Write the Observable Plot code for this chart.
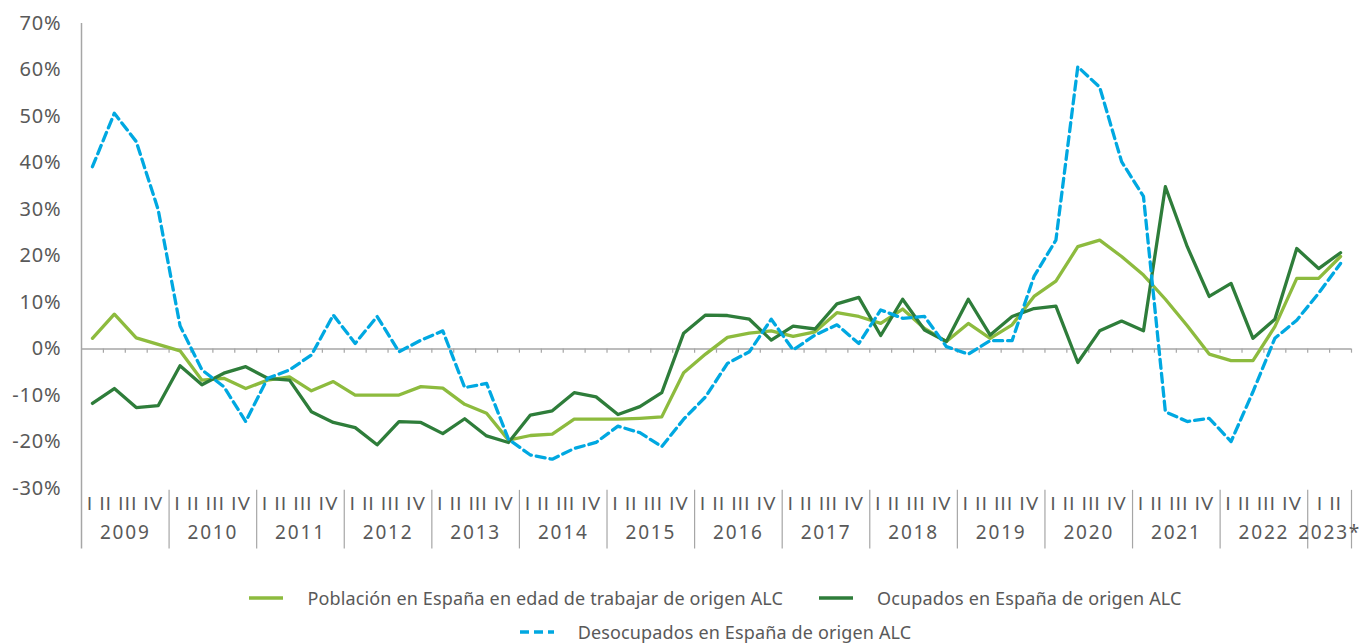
<!DOCTYPE html>
<html>
<head>
<meta charset="utf-8">
<script src="https://cdn.jsdelivr.net/npm/d3@7"></script>
<script src="https://cdn.jsdelivr.net/npm/@observablehq/plot@0.6"></script>
<style>
  body { margin: 0; background: #fff; font-family: "Noto Sans", sans-serif; color: #595959; overflow: hidden; }
  #chart svg { display: block; }
  #legend { width: 1307px; padding-left: 62px; margin-top: 27px; font-size: 18px; letter-spacing: 0.15px; line-height: 22px; }
  .row { display: flex; justify-content: center; align-items: center; height: 22px; }
  .row + .row { margin-top: 12px; }
  .item { display: flex; align-items: center; margin: 0 18px; }
  .item svg { margin-right: 24px; }
</style>
</head>
<body>
<div id="chart"></div>
<div id="legend"></div>
<script>
const years = ["2009","2010","2011","2012","2013","2014","2015","2016","2017","2018","2019","2020","2021","2022","2023*"];
const quarterLabels = ["I II III IV","I II III IV","I II III IV","I II III IV","I II III IV","I II III IV","I II III IV","I II III IV","I II III IV","I II III IV","I II III IV","I II III IV","I II III IV","I II III IV","I II"];
const quartersPerYear = [4,4,4,4,4,4,4,4,4,4,4,4,4,4,2];
const yTicks = [-30,-20,-10,0,10,20,30,40,50,60,70];

const seriesNames = [
  "Población en España en edad de trabajar de origen ALC",
  "Ocupados en España de origen ALC",
  "Desocupados en España de origen ALC"
];
const seriesColors = ["#8dbb3e", "#2e7d3a", "#00a8e1"];

const poblacion = [2.3,7.5,2.4,1.0,-0.4,-6.7,-6.3,-8.5,-6.7,-6.0,-9.0,-7.0,-9.9,-9.9,-9.9,-8.1,-8.4,-11.9,-13.8,-19.6,-18.6,-18.3,-15.1,-15.1,-15.1,-14.9,-14.6,-5.1,-1.1,2.5,3.4,3.9,2.7,3.7,7.8,7.0,5.5,8.6,4.4,1.6,5.5,2.3,5.2,11.3,14.6,22.0,23.4,19.9,15.9,10.7,5.0,-1.1,-2.5,-2.5,4.8,15.2,15.2,19.9];
const ocupados = [-11.7,-8.5,-12.6,-12.2,-3.6,-7.7,-5.2,-3.8,-6.3,-6.7,-13.5,-15.8,-16.9,-20.6,-15.6,-15.8,-18.2,-15.0,-18.7,-20.1,-14.2,-13.3,-9.4,-10.3,-14.1,-12.4,-9.4,3.4,7.3,7.2,6.4,1.9,4.9,4.3,9.7,11.1,2.9,10.7,4.1,1.6,10.7,3.0,7.0,8.7,9.2,-2.9,3.9,6.0,3.9,34.9,22.0,11.3,14.1,2.3,6.4,21.6,17.3,20.7];
const desocupados = [39.2,50.7,44.6,30.0,5.0,-4.5,-8.1,-15.6,-6.3,-4.5,-1.3,7.3,1.2,7.0,-0.6,1.9,3.9,-8.3,-7.4,-19.4,-22.8,-23.7,-21.4,-20.1,-16.6,-18.0,-21.0,-15.1,-10.3,-3.1,-0.6,6.4,-0.2,3.0,5.2,1.2,8.4,6.6,7.0,0.5,-1.1,1.8,1.8,15.6,23.4,60.7,56.3,40.3,32.8,-13.5,-15.6,-14.9,-19.9,-9.2,2.3,6.2,12.0,18.4];

// derived structures
const nQ = poblacion.length;
const yearStarts = quartersPerYear.map((q, i) => d3.sum(quartersPerYear.slice(0, i)));
const yearRows = years.map((y, i) => ({year: y, q: quarterLabels[i], center: yearStarts[i] + quartersPerYear[i] / 2}));
const boundaries = [...yearStarts, nQ];
const toRows = (vals) => vals.map((v, i) => ({x: i + 0.5, v}));

const axisGray = "#a6a6a6";

const chart = Plot.plot({
  width: 1369,
  height: 560,
  marginLeft: 81,
  marginRight: 18,
  marginTop: 23,
  marginBottom: 72,
  x: {domain: [0, nQ], axis: null},
  y: {domain: [-30, 70], ticks: yTicks, tickFormat: d => `${d}%`, tickSize: 0, tickPadding: 20, label: null},
  style: {fontFamily: "Noto Sans, sans-serif", fontSize: "20px", color: "#595959", background: "#fff"},
  marks: [
    Plot.ruleY([0], {x1: 0, x2: nQ, stroke: axisGray, strokeWidth: 1.5}),
    Plot.ruleX(d3.range(1, nQ + 1), {x: d => d, y1: 0, y2: -0.9, stroke: axisGray, strokeWidth: 1.2}),
    Plot.ruleX([0], {y1: 70, y2: -43, stroke: axisGray, strokeWidth: 1.5}),
    Plot.ruleX(boundaries.slice(1), {x: d => d, y1: -30.4, y2: -43, stroke: axisGray, strokeWidth: 1.2}),
    Plot.text(yearRows, {x: "center", y: () => -33.3, text: "q", fill: "#595959", fontSize: 18, fontFamily: "Lato"}),
    Plot.text(yearRows, {x: "center", y: () => -39.6, text: "year", fill: "#595959", fontSize: 19, fontFamily: "Noto Sans"}),
    Plot.line(toRows(poblacion), {x: "x", y: "v", stroke: seriesColors[0], strokeWidth: 3.3}),
    Plot.line(toRows(ocupados), {x: "x", y: "v", stroke: seriesColors[1], strokeWidth: 3.3}),
    Plot.line(toRows(desocupados), {x: "x", y: "v", stroke: seriesColors[2], strokeWidth: 3.3, strokeDasharray: "9,5"})
  ]
});
document.getElementById("chart").appendChild(chart);

// letter spacing tweaks (Gotham-like wide set)
d3.select(chart).selectAll("text").each(function() {
  const t = this.textContent;
  const s = d3.select(this);
  if (/^I/.test(t)) s.style("letter-spacing", "1.4px");
  else if (/^\d{4}/.test(t)) s.style("letter-spacing", "1.8px");
  else if (/%$/.test(t)) s.style("letter-spacing", "0.8px");
});

// legend
const sw = (color, dashed) => `<svg width="34" height="6"><line x1="0" y1="3" x2="34" y2="3" stroke="${color}" stroke-width="3.3" ${dashed ? 'stroke-dasharray="9,5"' : ''}/></svg>`;
const item = (i, dashed) => `<div class="item">${sw(seriesColors[i], dashed)}<span>${seriesNames[i]}</span></div>`;
document.getElementById("legend").innerHTML =
  `<div class="row">${item(0)}${item(1)}</div><div class="row">${item(2, true)}</div>`;
</script>
</body>
</html>
